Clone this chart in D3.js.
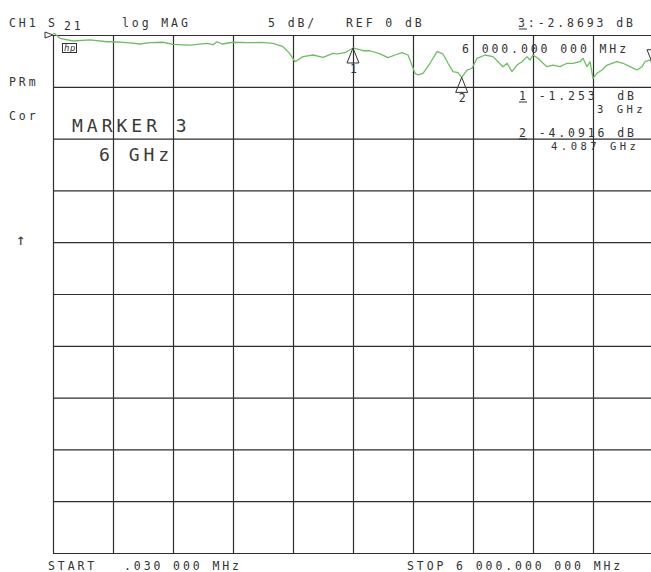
<!DOCTYPE html>
<html>
<head>
<meta charset="utf-8">
<script src="https://cdn.jsdelivr.net/npm/d3@7"></script>
<style>
  html, body { margin: 0; padding: 0; background: #fff; }
  svg { display: block; }
  text { font-family: "DejaVu Sans Mono", "Liberation Mono", monospace; fill: #333; white-space: pre; }
  .sm { font-size: 11.5px; letter-spacing: 2.9px; }
  .stim { font-size: 10.5px; letter-spacing: 3.5px; }
  .lg { font-size: 18px; letter-spacing: 4px; fill: #3a3a3a; }
</style>
</head>
<body>
<svg id="chart" width="651" height="572"></svg>
<script>
// S21 transmission sweep, .030 MHz – 6 GHz, log MAG, 5 dB/div, REF 0 dB
const freqGHz = [0.00003, 0.02, 0.07, 0.20, 0.37, 0.54, 0.60, 0.74, 0.87, 0.97, 1.10, 1.20, 1.37, 1.54,
  1.60, 1.64, 1.69, 1.80, 1.94, 2.08, 2.20, 2.30, 2.36, 2.42, 2.50, 2.60, 2.70, 2.80, 2.84, 2.92, 3.00,
  3.10, 3.17, 3.27, 3.35, 3.42, 3.49, 3.55, 3.62, 3.65, 3.70, 3.77, 3.84, 3.90, 3.95, 4.00, 4.05, 4.087,
  4.14, 4.19, 4.24, 4.32, 4.40, 4.45, 4.50, 4.54, 4.59, 4.64, 4.69, 4.74, 4.77, 4.80, 4.85, 4.90, 4.94,
  5.00, 5.07, 5.14, 5.20, 5.27, 5.30, 5.34, 5.37, 5.40, 5.44, 5.49, 5.54, 5.64, 5.70, 5.77, 5.84, 5.89,
  5.92, 5.97, 6.00];
const magDB = [0.15, 0.1, -0.32, -0.58, -0.48, -0.65, -0.65, -0.74, -0.87, -0.74, -0.70, -0.90, -0.97, -0.80,
  -0.94, -0.65, -0.87, -0.70, -0.74, -0.72, -0.80, -1.13, -1.70, -2.58, -2.09, -1.93, -2.15, -1.77, -1.83, -1.71, -1.253,
  -1.52, -1.52, -1.83, -2.19, -1.93, -1.71, -1.93, -3.70, -3.86, -3.70, -2.73, -1.61, -1.83, -2.73, -3.54, -3.64, -4.0916,
  -3.38, -3.21, -2.25, -1.93, -2.09, -2.58, -3.06, -2.73, -3.54, -2.90, -2.58, -2.09, -2.41, -1.93, -2.25, -2.73, -3.06,
  -2.90, -3.06, -2.73, -2.73, -2.58, -2.25, -3.06, -2.58, -4.18, -3.70, -3.38, -2.90, -2.58, -2.73, -3.06, -3.38, -3.06,
  -2.58, -2.41, -2.8693];

// Markers
const markerIds = ["1", "2", "3"];
const markerFreqGHz = [3, 4.087, 6];
const markerDB = [-1.253, -4.0916, -2.8693];

// Scale settings
const startGHz = 0.00003, stopGHz = 6;
const refDB = 0, dbPerDiv = 5, divisions = 10;

const svg = d3.select("#chart");
const gridLeft = 53, gridRight = 653, gridTop = 35, gridBottom = 553;

const x = d3.scaleLinear().domain([startGHz, stopGHz]).range([gridLeft, gridRight]);
const y = d3.scaleLinear().domain([refDB - dbPerDiv * divisions, refDB]).range([gridBottom, gridTop]);

// Graticule drawn with D3 axes (ticks stretched across the grid, no labels)
const xTicks = d3.range(divisions + 1).map(i => startGHz + (stopGHz - startGHz) * i / divisions);
const yTicks = d3.range(divisions + 1).map(i => refDB - dbPerDiv * i);

const gx = svg.append("g").attr("transform", `translate(0,${gridBottom})`)
  .call(d3.axisBottom(x).tickValues(xTicks).tickSize(-(gridBottom - gridTop)).tickFormat(""));
const gy = svg.append("g").attr("transform", `translate(${gridLeft},0)`)
  .call(d3.axisLeft(y).tickValues(yTicks).tickSize(-(gridRight - gridLeft)).tickFormat(""));
[gx, gy].forEach(g => {
  g.select(".domain").remove();
  g.selectAll(".tick line").attr("stroke", "#2e2e2e").attr("stroke-width", 1.2);
});

// Trace
const trace = freqGHz.map((f, i) => [f, magDB[i]]);
svg.append("path")
  .datum(trace)
  .attr("fill", "none")
  .attr("stroke", "#6cbf60")
  .attr("stroke-width", 1.3)
  .attr("stroke-linejoin", "round")
  .attr("d", d3.line().x(d => x(d[0])).y(d => y(d[1])));

// Reference position pointer at the left edge
svg.append("path")
  .attr("d", `M${gridLeft - 8},${y(refDB) - 3} L${gridLeft},${y(refDB)} L${gridLeft - 8},${y(refDB) + 3} Z`)
  .attr("fill", "none").attr("stroke", "#333").attr("stroke-width", 1);

// Marker triangles
markerIds.forEach((id, i) => {
  const mx = x(markerFreqGHz[i]), my = y(markerDB[i]);
  const w = 6, h = 15;
  if (id === "3") {
    svg.append("path")
      .attr("d", `M${mx},${my} L${mx - w},${my - h} L${mx + w},${my - h} Z`)
      .attr("fill", "none").attr("stroke", "#333").attr("stroke-width", 1);
  } else {
    svg.append("path")
      .attr("d", `M${mx},${my} L${mx - w},${my + h} L${mx + w},${my + h} Z`)
      .attr("fill", "none").attr("stroke", "#333").attr("stroke-width", 1);
    svg.append("text").attr("class", "sm")
      .attr("x", mx - 3).attr("y", my + h + 10).text(id);
  }
});

// hp badge
svg.append("rect").attr("x", 62.5).attr("y", 43.5).attr("width", 14).attr("height", 9)
  .attr("fill", "none").attr("stroke", "#333").attr("stroke-width", 1);
svg.append("text").attr("x", 64).attr("y", 51)
  .style("font-size", "9px").style("font-style", "italic").style("letter-spacing", "0.5px").text("hp");

// Annotation text
const smallText = [
  [9, 27, "CH1"], [48, 27, "S"], [64, 30, "21"], [122, 27, "log MAG"], [268, 27, "5 dB/"],
  [346, 27, "REF 0 dB"], [518, 27, "3:-2.8693 dB"],
  [9, 86, "PRm"], [9, 120, "Cor"],
  [462, 53, "6 000.000 000 MHz"],
  [519, 100, "1 -1.253  dB"], [519, 137, "2 -4.0916 dB"],
  [48, 570, "START"], [124, 570, ".030 000 MHz"], [407, 570, "STOP 6 000.000 000 MHz"]
];
svg.selectAll("text.note").data(smallText).join("text")
  .attr("class", "sm note")
  .attr("x", d => d[0]).attr("y", d => d[1]).text(d => d[2]);

// Marker stimulus readouts under each value
const stimText = [[597, 113, "3 GHz"], [551, 150, "4.087 GHz"]];
svg.selectAll("text.stimv").data(stimText).join("text")
  .attr("class", "stim stimv")
  .attr("x", d => d[0]).attr("y", d => d[1]).text(d => d[2]);

const largeText = [[72, 132, "MARKER 3"], [99, 161, "6 GHz"]];
svg.selectAll("text.big").data(largeText).join("text")
  .attr("class", "lg big")
  .attr("x", d => d[0]).attr("y", d => d[1]).text(d => d[2]);

// Underlines beneath active-marker digits
[[519, 29], [519, 102], [519, 139]].forEach(p => {
  svg.append("line").attr("x1", p[0]).attr("x2", p[0] + 8).attr("y1", p[1]).attr("y2", p[1])
    .attr("stroke", "#333").attr("stroke-width", 1);
});

// Arrow at left
svg.append("text").attr("x", 16).attr("y", 245).style("font-size", "16px").style("fill", "#444").text("↑");
</script>
</body>
</html>
